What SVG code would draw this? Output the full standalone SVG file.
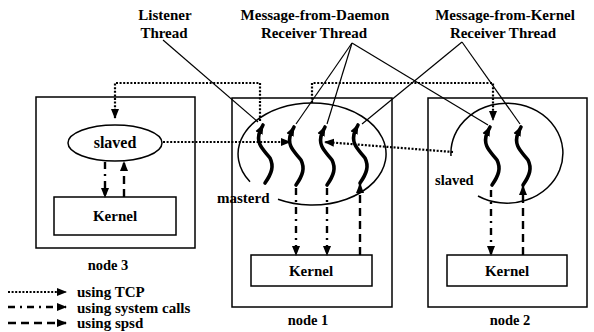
<svg xmlns="http://www.w3.org/2000/svg" width="594" height="332" viewBox="0 0 594 332">
<style>
text{font-family:"Liberation Serif","Times New Roman",serif;font-weight:bold;fill:#000}
.lbl{font-size:15px}
.c{text-anchor:middle}
.box{fill:none;stroke:#000;stroke-width:1.5}
.ell{fill:none;stroke:#000;stroke-width:1.5}
.thr{fill:none;stroke:#000;stroke-width:3.6;stroke-linecap:round;marker-end:url(#ah)}
.tcp{fill:none;stroke:#000;stroke-width:2.2;stroke-dasharray:2 1.6;marker-end:url(#ah)}
.sys{fill:none;stroke:#000;stroke-width:2.4;stroke-dasharray:7 5 2 5;marker-end:url(#ah)}
.spsd{fill:none;stroke:#000;stroke-width:2.4;stroke-dasharray:8 5;marker-end:url(#ah)}
.lead{fill:none;stroke:#000;stroke-width:1.2}
</style>
<defs>
<marker id="ah" markerUnits="userSpaceOnUse" markerWidth="10" markerHeight="10" viewBox="0 0 10 10" refX="9" refY="5" orient="auto">
<path d="M0,1 L10,5 L0,9 Z" fill="#000"/>
</marker>
</defs>

<g id="node3">
<rect class="box" x="36" y="97" width="159" height="151"/>
<ellipse class="ell" cx="115" cy="143" rx="47" ry="18"/>
<text x="115" y="148" class="c" font-size="16">slaved</text>
<rect class="box" x="54" y="197" width="122" height="38"/>
<text x="115" y="221" class="c lbl">Kernel</text>
<text x="108" y="270" class="c" font-size="14.5">node 3</text>
</g>

<g id="node1">
<rect class="box" x="232" y="98" width="160" height="209"/>
<path class="ell" d="M278,199.3 A74,51 0 1 0 250,181.8"/>
<text x="217" y="203" class="lbl">masterd</text>
<path class="thr" d="M265,183 c7,-10 9,-17 5,-25 c-6,-8 -15,-14 -10,-27 l3,-6"/>
<path class="thr" d="M296,185 c7,-10 9,-17 5,-25 c-6,-8 -15,-14 -10,-27 l3,-6"/>
<path class="thr" d="M327,185 c7,-10 9,-17 5,-25 c-6,-8 -15,-14 -10,-27 l3,-6"/>
<path class="thr" d="M360,183 c7,-10 9,-17 5,-25 c-6,-8 -15,-14 -10,-27 l3,-6"/>
<rect class="box" x="251" y="255" width="121" height="31"/>
<text x="311" y="276" class="c lbl">Kernel</text>
<text x="308" y="325" class="c" font-size="14.5">node 1</text>
</g>

<g id="node2">
<rect class="box" x="428" y="98" width="159" height="209"/>
<path class="ell" d="M478,196 A56,50 0 1 0 451,156"/>
<text x="435" y="185" font-size="14.5">slaved</text>
<path class="thr" d="M492,185 c7,-10 9,-17 5,-25 c-6,-8 -15,-14 -10,-27 l3,-6"/>
<path class="thr" d="M523,185 c7,-10 9,-17 5,-25 c-6,-8 -15,-14 -10,-27 l3,-6"/>
<rect class="box" x="447" y="255" width="120" height="31"/>
<text x="507" y="276" class="c lbl">Kernel</text>
<text x="510" y="325" class="c" font-size="14.5">node 2</text>
</g>

<g id="labels">
<text x="165" y="20" class="c lbl">Listener</text>
<text x="164" y="38" class="c lbl">Thread</text>
<text x="315" y="20" class="c lbl">Message-from-Daemon</text>
<text x="314" y="38" class="c lbl">Receiver Thread</text>
<text x="505" y="20" class="c lbl">Message-from-Kernel</text>
<text x="503" y="38" class="c lbl">Receiver Thread</text>
</g>

<g id="connectors">
<path class="lead" d="M163,40 L258,122"/>
<path class="lead" d="M352,43 L296,124"/>
<path class="lead" d="M352,43 L327,124"/>
<path class="lead" d="M352,43 L488,125"/>
<path class="lead" d="M462,42 L362,124"/>
<path class="lead" d="M462,42 L520,124"/>
<path class="tcp" d="M260,121 V83 H115 V118"/>
<path class="tcp" d="M163,142 H290"/>
<path class="tcp" d="M453,152 L325,142"/>
<path class="tcp" d="M312,103 V83 H493 V120"/>
<path class="sys" d="M105,162 V197"/>
<path class="spsd" d="M124,197 V162"/>
<path class="sys" d="M296,188 V255"/>
<path class="sys" d="M327,188 V255"/>
<path class="spsd" d="M360,255 V184"/>
<path class="sys" d="M491,190 V255"/>
<path class="spsd" d="M523,255 V186"/>
</g>

<g id="legend">
<path class="tcp" d="M8,292 H66"/>
<path class="sys" d="M8,307 H66"/>
<path class="spsd" d="M8,323 H66"/>
<text x="77" y="297" class="lbl">using TCP</text>
<text x="77" y="313" class="lbl">using system calls</text>
<text x="77" y="328" class="lbl">using spsd</text>
</g>
</svg>
